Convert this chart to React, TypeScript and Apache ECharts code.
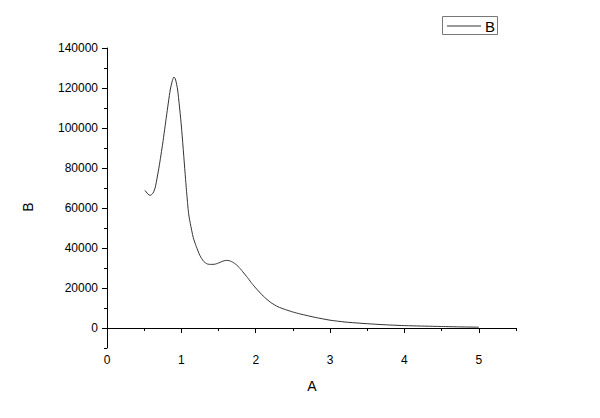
import React, { useEffect, useRef } from "react";
import * as echarts from "echarts";

const seriesName = "B";
const xAxisName = "A";
const yAxisName = "B";

const aValues = [
  0.51, 0.55, 0.58, 0.62, 0.65, 0.7, 0.75, 0.8, 0.85, 0.88, 0.9, 0.92, 0.95, 1.0, 1.05, 1.07,
  1.09, 1.1, 1.12, 1.16, 1.2, 1.25, 1.3, 1.35, 1.4, 1.45, 1.5, 1.55, 1.6, 1.65, 1.7, 1.75, 1.8, 1.85, 1.9,
  1.95, 2.0, 2.1, 2.2, 2.3, 2.4, 2.5, 2.6, 2.8, 3.0, 3.2, 3.4, 3.6, 3.8, 4.0, 4.25, 4.5, 4.75, 5.0,
];
const bValues = [
  68800, 67000, 66300, 67500, 70500, 80500, 92500, 106000, 119000, 123800, 125500, 124500, 119000,
  101000, 77500, 68200, 59800, 56500, 52300, 45200, 40800, 36200, 33300, 32000, 31800, 31900, 32500, 33300,
  33800, 33600, 32700, 31300, 29300, 27000, 24700, 22200, 20000, 16000, 12800, 10600, 9200, 8000,
  7000, 5300, 3900, 3000, 2400, 1900, 1500, 1200, 950, 750, 550, 400,
];
const xMajorTicks = [0, 1, 2, 3, 4, 5];
const yMajorTicks = [0, 20000, 40000, 60000, 80000, 100000, 120000, 140000];

const FONT = "Liberation Sans, Arial, sans-serif";

export default function App() {
  const ref = useRef<HTMLDivElement>(null);
  useEffect(() => {
    if (!ref.current) return;
    const chart = echarts.init(ref.current, null, { renderer: "svg" });
    const data = aValues.map((a, i) => [a, bValues[i]]);
    const axisLine = { show: true, lineStyle: { color: "#000", width: 1 } };
    chart.setOption({
      animation: false,
      backgroundColor: "#fff",
      grid: { left: 107, right: 84, top: 48, bottom: 70 },
      xAxis: [
        {
          type: "value",
          min: 0,
          max: 5.5,
          interval: 0.5,
          axisLine,
          axisTick: { show: true, length: 3, lineStyle: { color: "#000" } },
          axisLabel: {
            formatter: (v: number) => (Math.abs(v - Math.round(v)) < 1e-9 ? String(Math.round(v)) : ""),
            color: "#000",
            fontSize: 12,
            fontFamily: FONT,
            margin: 6,
          },
          splitLine: { show: false },
        },
        {
          type: "value",
          min: 0,
          max: 5.5,
          position: "bottom",
          axisLine: { show: false },
          axisTick: { show: true, length: 5, customValues: xMajorTicks, lineStyle: { color: "#000" } },
          axisLabel: { show: false },
          splitLine: { show: false },
        },
      ],
      yAxis: [
        {
          type: "value",
          min: -10000,
          max: 140000,
          interval: 10000,
          axisLine,
          axisTick: { show: true, length: 3, lineStyle: { color: "#000" } },
          axisLabel: {
            formatter: (v: number) => (v >= 0 && v % 20000 === 0 ? String(v) : ""),
            color: "#000",
            fontSize: 12,
            fontFamily: FONT,
            margin: 9,
          },
          splitLine: { show: false },
        },
        {
          type: "value",
          min: -10000,
          max: 140000,
          position: "left",
          axisLine: { show: false },
          axisTick: { show: true, length: 5, customValues: yMajorTicks, lineStyle: { color: "#000" } },
          axisLabel: { show: false },
          splitLine: { show: false },
        },
      ],
      series: [
        {
          name: seriesName,
          type: "line",
          data,
          xAxisIndex: 0,
          yAxisIndex: 0,
          showSymbol: false,
          smooth: 0.2,
          lineStyle: { color: "#333", width: 1 },
        },
      ],
      graphic: [
        {
          type: "text",
          x: 312,
          y: 386,
          style: { text: xAxisName, fontSize: 14, fontFamily: FONT, fill: "#000", align: "center", verticalAlign: "middle" },
        },
        {
          type: "text",
          x: 28,
          y: 207,
          rotation: Math.PI / 2,
          style: { text: yAxisName, fontSize: 14, fontFamily: FONT, fill: "#000", align: "center", verticalAlign: "middle" },
        },
        {
          type: "rect",
          shape: { x: 442.5, y: 16.5, width: 55, height: 18 },
          style: { fill: "#fff", stroke: "#777", lineWidth: 1 },
        },
        {
          type: "line",
          shape: { x1: 447, y1: 26, x2: 481, y2: 26 },
          style: { stroke: "#333", lineWidth: 1 },
        },
        {
          type: "text",
          x: 485,
          y: 26.5,
          style: { text: seriesName, fontSize: 15, fontFamily: FONT, fill: "#000", align: "left", verticalAlign: "middle" },
        },
      ],
    });
    return () => chart.dispose();
  }, []);
  return <div ref={ref} style={{ position: "fixed", left: 0, top: 0, width: 600, height: 418 }} />;
}
